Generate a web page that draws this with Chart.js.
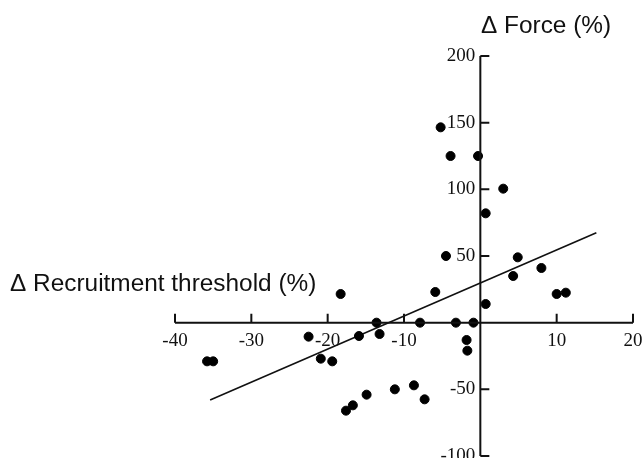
<!DOCTYPE html>
<html>
<head>
<meta charset="utf-8">
<script src="https://cdn.jsdelivr.net/npm/chart.js@4"></script>
<style>
  html, body { margin: 0; padding: 0; background: #fff; overflow: hidden; }
  canvas { display: block; }
</style>
</head>
<body>
<canvas id="myChart" width="643" height="458"></canvas>
<script>
// valores
const recruitX = [-35.8, -35.0, -22.5, -20.9, -19.4, -18.3, -17.6, -16.7, -15.9, -14.9, -13.6, -13.2,
    -11.2, -8.7, -7.9, -7.3, -5.9, -5.2, -4.5, -3.9, -3.2, -1.8, -1.7, -0.9, -0.3, 0.7, 0.7,
    3.0, 4.3, 4.9, 8.0, 10.0, 11.2];
const forceY = [-29, -29, -10.5, -27, -29, 21.5, -66, -62, -10, -54, 0, -8.5,
    -50, -47, 0, -57.5, 23, 146.5, 50, 125, 0, -13, -21, 0, 125, 82, 14,
    100.5, 35, 49, 41, 21.5, 22.5];
// recta de regresion (extremos)
const fitX = [-35.4, 15.2];
const fitY = [-58, 67.5];

const xTicks = [-40, -30, -20, -10, 10, 20];
const yTicks = [-100, -50, 50, 100, 150, 200];

const xTitle = '\u0394 Recruitment threshold (%)';
const yTitle = '\u0394 Force (%)';

function toPoints(xs, ys) {
    return xs.map((x, i) => ({ x: x, y: ys[i] }));
}

// Ejes cruzados en el origen, marcas hacia el lado contrario de las etiquetas
const axesPlugin = {
    id: 'axesPlugin',
    afterDraw(chart) {
        const ctx = chart.ctx;
        const sx = chart.scales.x;
        const sy = chart.scales.y;
        const x0 = sx.getPixelForValue(0);
        const y0 = sy.getPixelForValue(0);
        ctx.save();
        ctx.strokeStyle = '#111';
        ctx.lineWidth = 2;
        ctx.beginPath();
        ctx.moveTo(sx.getPixelForValue(-40), y0);
        ctx.lineTo(sx.getPixelForValue(20), y0);
        ctx.moveTo(x0, sy.getPixelForValue(200));
        ctx.lineTo(x0, sy.getPixelForValue(-100));
        xTicks.forEach(v => {
            const px = sx.getPixelForValue(v);
            ctx.moveTo(px, y0);
            ctx.lineTo(px, y0 - 9);
        });
        yTicks.forEach(v => {
            const py = sy.getPixelForValue(v);
            ctx.moveTo(x0, py);
            ctx.lineTo(x0 + 9, py);
        });
        ctx.stroke();

        // etiquetas de las marcas
        ctx.fillStyle = '#111';
        ctx.font = '19px "Liberation Serif", "Times New Roman", serif';
        ctx.textBaseline = 'middle';
        ctx.textAlign = 'center';
        xTicks.forEach(v => {
            ctx.fillText(String(v), sx.getPixelForValue(v), y0 + 18);
        });
        ctx.textAlign = 'right';
        yTicks.forEach(v => {
            ctx.fillText(String(v), x0 - 5, sy.getPixelForValue(v));
        });

        ctx.font = '24.4px "Liberation Sans", Arial, sans-serif';
        ctx.textBaseline = 'alphabetic';
        ctx.textAlign = 'left';
        ctx.fillText(xTitle, 10, 291);
        ctx.fillText(yTitle, 481, 33);
        ctx.restore();
    }
};

const ctx = document.getElementById('myChart');

new Chart(ctx, {
    type: 'scatter',
    data: {
        datasets: [{
            type: 'scatter',
            label: 'datos',
            data: toPoints(recruitX, forceY),
            backgroundColor: '#000',
            borderColor: '#000',
            pointRadius: 4.5,
            pointHoverRadius: 4.5,
        }, {
            type: 'line',
            label: 'regresion',
            data: toPoints(fitX, fitY),
            borderColor: '#111',
            borderWidth: 1.6,
            pointRadius: 0,
            fill: false,
        }]
    },
    options: {
        responsive: false,
        animation: false,
        layout: {
            autoPadding: false,
            padding: { left: 175, right: 10, top: 56, bottom: 2 }
        },
        plugins: {
            legend: { display: false },
            tooltip: { enabled: false },
        },
        scales: {
            x: {
                type: 'linear',
                position: { y: 0 },
                min: -40,
                max: 20,
                grid: { display: false, drawTicks: false },
                border: { display: false },
                ticks: { display: false }
            },
            y: {
                type: 'linear',
                position: { x: 0 },
                min: -100,
                max: 200,
                grid: { display: false, drawTicks: false },
                border: { display: false },
                ticks: { display: false }
            }
        }
    },
    plugins: [axesPlugin]
});
</script>
</body>
</html>
